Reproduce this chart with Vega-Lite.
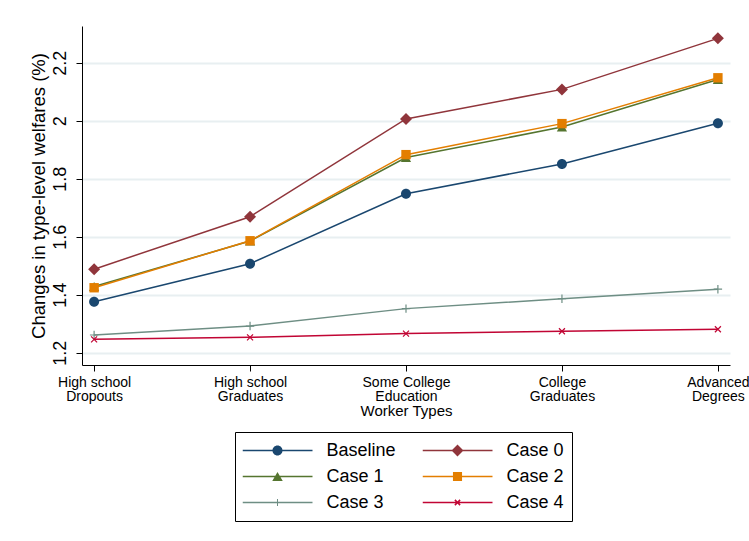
{
  "$schema": "https://vega.github.io/schema/vega-lite/v6.json",
  "width": 648,
  "height": 339,
  "autosize": {"type": "none"},
  "padding": {"left": 82, "top": 26, "right": 19, "bottom": 176},
  "background": "white",
  "config": {
    "font": "Liberation Sans",
    "view": {"stroke": null}
  },
  "data": {
    "values": [
      {"type": "High school Dropouts", "series": "Baseline", "value": 1.376},
      {"type": "High school Graduates", "series": "Baseline", "value": 1.507},
      {"type": "Some College Education", "series": "Baseline", "value": 1.748},
      {"type": "College Graduates", "series": "Baseline", "value": 1.851},
      {"type": "Advanced Degrees", "series": "Baseline", "value": 1.991},
      {"type": "High school Dropouts", "series": "Case 0", "value": 1.488},
      {"type": "High school Graduates", "series": "Case 0", "value": 1.669},
      {"type": "Some College Education", "series": "Case 0", "value": 2.006},
      {"type": "College Graduates", "series": "Case 0", "value": 2.108},
      {"type": "Advanced Degrees", "series": "Case 0", "value": 2.284},
      {"type": "High school Dropouts", "series": "Case 1", "value": 1.428},
      {"type": "High school Graduates", "series": "Case 1", "value": 1.585},
      {"type": "Some College Education", "series": "Case 1", "value": 1.873},
      {"type": "College Graduates", "series": "Case 1", "value": 1.978},
      {"type": "Advanced Degrees", "series": "Case 1", "value": 2.142},
      {"type": "High school Dropouts", "series": "Case 2", "value": 1.424},
      {"type": "High school Graduates", "series": "Case 2", "value": 1.586},
      {"type": "Some College Education", "series": "Case 2", "value": 1.883},
      {"type": "College Graduates", "series": "Case 2", "value": 1.99},
      {"type": "Advanced Degrees", "series": "Case 2", "value": 2.148},
      {"type": "High school Dropouts", "series": "Case 3", "value": 1.261},
      {"type": "High school Graduates", "series": "Case 3", "value": 1.292},
      {"type": "Some College Education", "series": "Case 3", "value": 1.352},
      {"type": "College Graduates", "series": "Case 3", "value": 1.386},
      {"type": "Advanced Degrees", "series": "Case 3", "value": 1.419},
      {"type": "High school Dropouts", "series": "Case 4", "value": 1.246},
      {"type": "High school Graduates", "series": "Case 4", "value": 1.253},
      {"type": "Some College Education", "series": "Case 4", "value": 1.266},
      {"type": "College Graduates", "series": "Case 4", "value": 1.274},
      {"type": "Advanced Degrees", "series": "Case 4", "value": 1.281}
    ]
  },
  "encoding": {
    "x": {
      "field": "type",
      "type": "ordinal",
      "sort": ["High school Dropouts", "High school Graduates", "Some College Education", "College Graduates", "Advanced Degrees"],
      "scale": {"type": "point", "padding": 0.0776},
      "axis": {
        "title": "Worker Types",
        "titleFontSize": 15,
        "titleFontWeight": "normal",
        "titleColor": "#000000",
        "titlePadding": 0,
        "labelAngle": 0,
        "labelExpr": "[slice(datum.label, 0, lastindexof(datum.label, ' ')), slice(datum.label, lastindexof(datum.label, ' ') + 1)]",
        "labelFontSize": 14,
        "labelLineHeight": 14,
        "labelColor": "#000000",
        "labelPadding": 4,
        "labelOverlap": false,
        "labelBound": false,
        "labelFlush": false,
        "tickSize": 6,
        "tickColor": "#000000",
        "domainColor": "#000000",
        "grid": false
      }
    },
    "y": {
      "field": "value",
      "type": "quantitative",
      "scale": {"domain": [1.1576, 2.3266], "nice": false, "zero": false},
      "axis": {
        "title": "Changes in type-level welfares (%)",
        "titleFontSize": 18.5,
        "titleFontWeight": "normal",
        "titleColor": "#000000",
        "titlePadding": 3,
        "values": [1.2, 1.4, 1.6, 1.8, 2, 2.2],
        "format": "~g",
        "labelAngle": -90,
        "labelAlign": "center",
        "labelBaseline": "alphabetic",
        "labelFontSize": 18,
        "labelColor": "#000000",
        "labelPadding": 10.5,
        "labelOverlap": false,
        "labelFlush": false,
        "tickSize": 6,
        "tickColor": "#000000",
        "domainColor": "#000000",
        "grid": true,
        "gridColor": "#e8eff1",
        "gridWidth": 1.8
      }
    },
    "color": {
      "field": "series",
      "type": "nominal",
      "scale": {
        "domain": ["Baseline", "Case 0", "Case 1", "Case 2", "Case 3", "Case 4"],
        "range": ["#1a476f", "#90353b", "#55752f", "#e37e00", "#6e8e84", "#c10534"]
      },
      "legend": {
        "title": null,
        "orient": "none",
        "legendX": 153,
        "legendY": 406,
        "direction": "horizontal",
        "columns": 2,
        "clipHeight": 22,
        "rowPadding": 4,
        "columnPadding": 26,
        "padding": 7.5,
        "strokeColor": "#000000",
        "fillColor": "#ffffff",
        "symbolSize": 4900,
        "symbolOffset": 0,
        "symbolStrokeWidth": 0,
        "labelOffset": 14,
        "labelFontSize": 18,
        "labelColor": "#000000",
        "labelLimit": 300,
        "encode": {
          "symbols": {
            "update": {
              "shape": {"signal": "datum.value === 'Baseline' ? 'M-1,-0.02H1V0.02H-1ZM0.143,0A0.143,0.143,0,1,1,-0.143,0A0.143,0.143,0,1,1,0.143,0Z' : datum.value === 'Case 0' ? 'M-1,-0.02H1V0.02H-1ZM0,-0.171L0.171,0L0,0.171L-0.171,0Z' : datum.value === 'Case 1' ? 'M-1,-0.02H1V0.02H-1ZM0,-0.13L0.15,0.13L-0.15,0.13Z' : datum.value === 'Case 2' ? 'M-1,-0.02H1V0.02H-1ZM-0.13,-0.13H0.13V0.13H-0.13Z' : datum.value === 'Case 3' ? 'M-1,-0.02H1V0.02H-1ZM-0.015,-0.1H0.015V0.1H-0.015Z' : 'M-1,-0.02H1V0.02H-1ZM-0.06,-0.09L0.09,0.06L0.06,0.09L-0.09,-0.06ZM-0.06,0.09L-0.09,0.06L0.06,-0.09L0.09,-0.06Z'"},
              "fill": {"signal": "scale('color', datum.value)"},
              "strokeWidth": {"value": 0},
              "opacity": {"value": 1}
            }
          }
        }
      }
    }
  },
  "layer": [
    {
      "mark": {"type": "line", "strokeWidth": 1.5},
      "encoding": {}
    },
    {
      "transform": [{"filter": "datum.series === 'Baseline'"}],
      "mark": {"type": "point", "filled": true, "opacity": 1, "size": 144,
               "shape": "M0.833,0A0.833,0.833,0,1,1,-0.833,0A0.833,0.833,0,1,1,0.833,0Z"}
    },
    {
      "transform": [{"filter": "datum.series === 'Case 0'"}],
      "mark": {"type": "point", "filled": true, "opacity": 1, "size": 144,
               "shape": "M0,-1L1,0L0,1L-1,0Z"}
    },
    {
      "transform": [{"filter": "datum.series === 'Case 1'"}],
      "mark": {"type": "point", "filled": true, "opacity": 1, "size": 144,
               "shape": "M0,-0.75L0.85,0.75L-0.85,0.75Z"}
    },
    {
      "transform": [{"filter": "datum.series === 'Case 2'"}],
      "mark": {"type": "point", "filled": true, "opacity": 1, "size": 144,
               "shape": "M-0.783,-0.783H0.783V0.783H-0.783Z"}
    },
    {
      "transform": [{"filter": "datum.series === 'Case 3'"}],
      "mark": {"type": "point", "filled": true, "opacity": 1, "size": 144,
               "shape": "M-0.7,-0.1H-0.1V-0.7H0.1V-0.1H0.7V0.1H0.1V0.7H-0.1V0.1H-0.7Z"}
    },
    {
      "transform": [{"filter": "datum.series === 'Case 4'"}],
      "mark": {"type": "point", "filled": true, "opacity": 1, "size": 144,
               "shape": "M-0.429,-0.571L0.571,0.429L0.429,0.571L-0.571,-0.429ZM-0.429,0.571L-0.571,0.429L0.429,-0.571L0.571,-0.429Z"}
    }
  ]
}
